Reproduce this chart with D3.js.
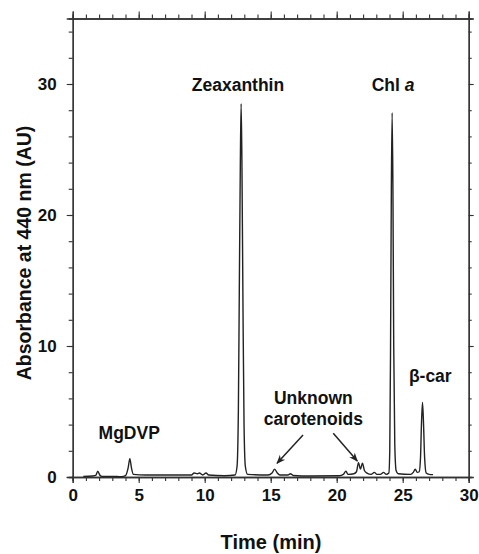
<!DOCTYPE html>
<html><head><meta charset="utf-8">
<script src="https://cdn.jsdelivr.net/npm/d3@7"></script>
<style>
body{margin:0;background:#fff;}
text{font-family:"Liberation Sans",Arial,sans-serif;font-weight:bold;fill:#111;}
</style></head>
<body><svg id="c" width="479" height="554"></svg>
<script>
// Chromatogram trace (time in min, absorbance in AU)
const times = [0.8,1.5,1.75,1.9,2.05,2.2,3.0,3.7,4.0,4.2,4.33,4.45,4.6,5.5,7.0,9.0,9.2,9.45,9.6,9.85,10.1,10.3,11.5,12.3,12.45,12.55,12.62,12.7,12.76,12.82,12.9,12.98,13.08,13.25,14.8,15.1,15.3,15.5,15.7,16.3,16.5,16.7,18.0,20.2,20.5,20.7,20.85,21.3,21.5,21.65,21.8,21.95,22.1,22.3,22.6,22.85,23.05,23.3,23.55,23.75,23.95,24.02,24.08,24.14,24.2,24.26,24.32,24.4,24.5,24.65,25.6,25.8,25.95,26.1,26.25,26.35,26.42,26.5,26.58,26.66,26.78,27.0,27.3];
const absorb = [0.05,0.08,0.12,0.45,0.15,0.05,0.05,0.02,0.1,0.7,1.4,0.7,0.2,0.15,0.15,0.15,0.3,0.25,0.3,0.15,0.3,0.15,0.1,0.15,0.8,5,14,24,28.5,24,13,4,0.8,0.2,0.15,0.3,0.6,0.3,0.15,0.15,0.25,0.12,0.08,0.1,0.2,0.45,0.2,0.25,0.4,1.1,0.6,1.05,0.5,0.3,0.2,0.35,0.2,0.2,0.35,0.2,0.3,2,10,22,27.8,22,10,2.5,0.5,0.25,0.2,0.35,0.6,0.35,0.4,1.5,4,5.7,4,1.5,0.3,0.2,0.18];
const xMajorTicks = [0,5,10,15,20,25,30];
const yMajorTicks = [0,10,20,30];
const xTitle = "Time (min)";
const yTitle = "Absorbance at 440 nm (AU)";
// Peak labels: text, time, absorbance (label anchor in data units)
const labelTexts = ["Zeaxanthin","MgDVP","Unknown","carotenoids","\u03B2-car"];
const labelTimes = [12.52,4.28,18.23,18.23,27.09];
const labelAbs = [29.5,2.88,5.6,3.97,7.27];
// Arrows from label to peaks: [t0,a0,t1,a1]
const arrowStartT = [17.45,19.74], arrowStartA = [3.2,3.34];
const arrowEndT = [15.48,21.56], arrowEndA = [1.05,1.22];

const svg = d3.select("#c");
const L=72.7,R=468.7,T=18.5,B=477;
const x = d3.scaleLinear().domain([0,30]).range([L,R]);
const y = d3.scaleLinear().domain([0,35]).range([B,T]);
const axCol="#333";

function styleAxis(g){
  g.select(".domain").attr("stroke",axCol).attr("stroke-width",1.3);
  g.selectAll(".tick line").attr("stroke",axCol).attr("stroke-width",1.1);
  g.selectAll(".tick text").style("font-size","17px").attr("fill","#111");
}
const xMinor = d3.range(0,31,1), yMinor = d3.range(0,36,2);
// bottom
svg.append("g").attr("transform",`translate(0,${B})`).call(d3.axisBottom(x).tickValues(xMinor).tickSize(4).tickFormat("")).call(styleAxis);
svg.append("g").attr("transform",`translate(0,${B})`).call(d3.axisBottom(x).tickValues(xMajorTicks).tickSize(6).tickPadding(6).tickFormat(d3.format("d"))).call(styleAxis);
// top
svg.append("g").attr("transform",`translate(0,${T})`).call(d3.axisTop(x).tickValues(xMinor).tickSize(4).tickFormat("")).call(styleAxis);
svg.append("g").attr("transform",`translate(0,${T})`).call(d3.axisTop(x).tickValues(xMajorTicks).tickSize(7).tickFormat("")).call(styleAxis);
// left
svg.append("g").attr("transform",`translate(${L},0)`).call(d3.axisLeft(y).tickValues(yMinor).tickSize(4).tickFormat("")).call(styleAxis);
svg.append("g").attr("transform",`translate(${L},0)`).call(d3.axisLeft(y).tickValues(yMajorTicks).tickSize(6).tickPadding(10).tickFormat(d3.format("d"))).call(styleAxis);
// right
svg.append("g").attr("transform",`translate(${R},0)`).call(d3.axisRight(y).tickValues(yMinor).tickSize(3).tickFormat("")).call(styleAxis);
svg.append("g").attr("transform",`translate(${R},0)`).call(d3.axisRight(y).tickValues(yMajorTicks.concat([35])).tickSize(5).tickFormat("")).call(styleAxis);

// trace
const pts = times.map((t,i)=>[t,absorb[i]]);
svg.append("path").datum(pts)
  .attr("d",d3.line().x(d=>x(d[0])).y(d=>y(d[1])).curve(d3.curveMonotoneX))
  .attr("fill","none").attr("stroke","#222").attr("stroke-width",1.4);

// labels
labelTexts.forEach((s,i)=>{
  svg.append("text").attr("x",x(labelTimes[i])).attr("y",y(labelAbs[i]))
    .attr("text-anchor","middle").style("font-size","17.5px").text(s);
});
const chl = svg.append("text").attr("x",x(24.27)).attr("y",y(29.5)).attr("text-anchor","middle").style("font-size","17.5px");
chl.append("tspan").text("Chl ");
chl.append("tspan").style("font-style","italic").text("a");

// arrows
svg.append("defs").append("marker").attr("id","ah").attr("viewBox","0 0 10 10")
  .attr("refX",9).attr("refY",5).attr("markerWidth",9).attr("markerHeight",9)
  .attr("markerUnits","userSpaceOnUse").attr("orient","auto")
  .append("path").attr("d","M0,1 L10,5 L0,9 L3,5 Z").attr("fill","#222");
arrowStartT.forEach((t,i)=>{
  svg.append("line").attr("x1",x(t)).attr("y1",y(arrowStartA[i]))
    .attr("x2",x(arrowEndT[i])).attr("y2",y(arrowEndA[i]))
    .attr("stroke","#222").attr("stroke-width",1.5).attr("marker-end","url(#ah)");
});

// axis titles
svg.append("text").attr("x",271).attr("y",549).attr("text-anchor","middle").style("font-size","20px").text(xTitle);
svg.append("text").attr("transform","translate(31,253) rotate(-90)").attr("text-anchor","middle").style("font-size","19.5px").text(yTitle);
</script></body></html>
